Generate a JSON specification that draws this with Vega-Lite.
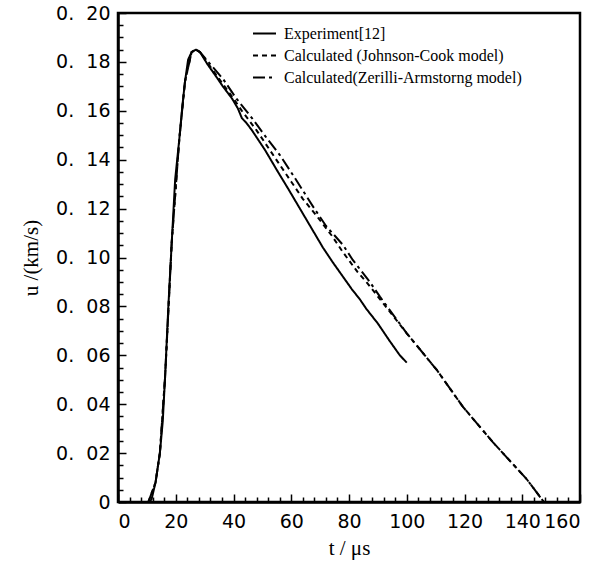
{
  "$schema": "https://vega.github.io/schema/vega-lite/v6.json",
  "autosize": "none",
  "width": 462,
  "height": 489,
  "padding": {"left": 118, "top": 13, "right": 23, "bottom": 62},
  "background": "white",
  "config": {
    "view": {"stroke": "black", "strokeWidth": 2.5},
    "axis": {"domainColor": "black", "domainWidth": 2.5, "tickColor": "black", "tickWidth": 1.5, "grid": false,
      "labelFont": "DejaVu Sans", "labelFontSize": 19, "labelColor": "black",
      "titleFont": "Liberation Serif", "titleFontSize": 21, "titleFontWeight": "normal", "titleColor": "black"}
  },
  "data": {"values": [
    {"series": "Experiment", "t": 10.5, "u": 0},
    {"series": "Experiment", "t": 11.6, "u": 0.001},
    {"series": "Experiment", "t": 13.0, "u": 0.008},
    {"series": "Experiment", "t": 14.5, "u": 0.020},
    {"series": "Experiment", "t": 15.5, "u": 0.033},
    {"series": "Experiment", "t": 16.3, "u": 0.051},
    {"series": "Experiment", "t": 17.4, "u": 0.079},
    {"series": "Experiment", "t": 18.6, "u": 0.106},
    {"series": "Experiment", "t": 19.8, "u": 0.132},
    {"series": "Experiment", "t": 21.2, "u": 0.148},
    {"series": "Experiment", "t": 22.3, "u": 0.162},
    {"series": "Experiment", "t": 23.2, "u": 0.172},
    {"series": "Experiment", "t": 24.3, "u": 0.181},
    {"series": "Experiment", "t": 25.5, "u": 0.184},
    {"series": "Experiment", "t": 27.0, "u": 0.185},
    {"series": "Experiment", "t": 28.4, "u": 0.184},
    {"series": "Experiment", "t": 31.0, "u": 0.179},
    {"series": "Experiment", "t": 34.0, "u": 0.174},
    {"series": "Experiment", "t": 36.3, "u": 0.170},
    {"series": "Experiment", "t": 39.5, "u": 0.165},
    {"series": "Experiment", "t": 41.5, "u": 0.161},
    {"series": "Experiment", "t": 42.9, "u": 0.157},
    {"series": "Experiment", "t": 44.5, "u": 0.155},
    {"series": "Experiment", "t": 46.4, "u": 0.152},
    {"series": "Experiment", "t": 50.9, "u": 0.144},
    {"series": "Experiment", "t": 55.4, "u": 0.135},
    {"series": "Experiment", "t": 59.0, "u": 0.128},
    {"series": "Experiment", "t": 63.0, "u": 0.120},
    {"series": "Experiment", "t": 67.0, "u": 0.112},
    {"series": "Experiment", "t": 71.0, "u": 0.104},
    {"series": "Experiment", "t": 74.4, "u": 0.098},
    {"series": "Experiment", "t": 78.0, "u": 0.092},
    {"series": "Experiment", "t": 81.0, "u": 0.087},
    {"series": "Experiment", "t": 83.7, "u": 0.083},
    {"series": "Experiment", "t": 86.0, "u": 0.079},
    {"series": "Experiment", "t": 90.0, "u": 0.073},
    {"series": "Experiment", "t": 94.0, "u": 0.066},
    {"series": "Experiment", "t": 97.6, "u": 0.060},
    {"series": "Experiment", "t": 100.0, "u": 0.057},

    {"series": "Johnson-Cook", "t": 10.5, "u": 0},
    {"series": "Johnson-Cook", "t": 13.0, "u": 0.008},
    {"series": "Johnson-Cook", "t": 14.5, "u": 0.020},
    {"series": "Johnson-Cook", "t": 16.3, "u": 0.051},
    {"series": "Johnson-Cook", "t": 18.6, "u": 0.106},
    {"series": "Johnson-Cook", "t": 21.2, "u": 0.148},
    {"series": "Johnson-Cook", "t": 23.2, "u": 0.172},
    {"series": "Johnson-Cook", "t": 25.5, "u": 0.184},
    {"series": "Johnson-Cook", "t": 27.0, "u": 0.185},
    {"series": "Johnson-Cook", "t": 28.4, "u": 0.184},
    {"series": "Johnson-Cook", "t": 32.0, "u": 0.178},
    {"series": "Johnson-Cook", "t": 36.3, "u": 0.171},
    {"series": "Johnson-Cook", "t": 40.0, "u": 0.165},
    {"series": "Johnson-Cook", "t": 42.9, "u": 0.160},
    {"series": "Johnson-Cook", "t": 48.0, "u": 0.152},
    {"series": "Johnson-Cook", "t": 55.4, "u": 0.139},
    {"series": "Johnson-Cook", "t": 60.0, "u": 0.131},
    {"series": "Johnson-Cook", "t": 64.0, "u": 0.124},
    {"series": "Johnson-Cook", "t": 68.8, "u": 0.117},
    {"series": "Johnson-Cook", "t": 74.0, "u": 0.109},
    {"series": "Johnson-Cook", "t": 78.0, "u": 0.102},
    {"series": "Johnson-Cook", "t": 83.0, "u": 0.094},
    {"series": "Johnson-Cook", "t": 86.0, "u": 0.090},
    {"series": "Johnson-Cook", "t": 90.7, "u": 0.083},
    {"series": "Johnson-Cook", "t": 100.0, "u": 0.069},
    {"series": "Johnson-Cook", "t": 110.4, "u": 0.054},
    {"series": "Johnson-Cook", "t": 119.4, "u": 0.039},
    {"series": "Johnson-Cook", "t": 129.8, "u": 0.0245},
    {"series": "Johnson-Cook", "t": 141.5, "u": 0.0094},
    {"series": "Johnson-Cook", "t": 147.5, "u": 0},

    {"series": "Zerilli-Armstrong", "t": 10.5, "u": 0},
    {"series": "Zerilli-Armstrong", "t": 13.0, "u": 0.008},
    {"series": "Zerilli-Armstrong", "t": 14.5, "u": 0.020},
    {"series": "Zerilli-Armstrong", "t": 16.3, "u": 0.051},
    {"series": "Zerilli-Armstrong", "t": 18.6, "u": 0.106},
    {"series": "Zerilli-Armstrong", "t": 21.2, "u": 0.148},
    {"series": "Zerilli-Armstrong", "t": 23.2, "u": 0.172},
    {"series": "Zerilli-Armstrong", "t": 25.5, "u": 0.184},
    {"series": "Zerilli-Armstrong", "t": 27.0, "u": 0.185},
    {"series": "Zerilli-Armstrong", "t": 28.4, "u": 0.184},
    {"series": "Zerilli-Armstrong", "t": 32.0, "u": 0.179},
    {"series": "Zerilli-Armstrong", "t": 36.4, "u": 0.173},
    {"series": "Zerilli-Armstrong", "t": 41.0, "u": 0.165},
    {"series": "Zerilli-Armstrong", "t": 46.4, "u": 0.157},
    {"series": "Zerilli-Armstrong", "t": 51.4, "u": 0.149},
    {"series": "Zerilli-Armstrong", "t": 56.0, "u": 0.142},
    {"series": "Zerilli-Armstrong", "t": 61.0, "u": 0.133},
    {"series": "Zerilli-Armstrong", "t": 68.0, "u": 0.120},
    {"series": "Zerilli-Armstrong", "t": 72.0, "u": 0.113},
    {"series": "Zerilli-Armstrong", "t": 78.0, "u": 0.105},
    {"series": "Zerilli-Armstrong", "t": 81.3, "u": 0.099},
    {"series": "Zerilli-Armstrong", "t": 87.2, "u": 0.090},
    {"series": "Zerilli-Armstrong", "t": 90.7, "u": 0.084},
    {"series": "Zerilli-Armstrong", "t": 100.0, "u": 0.069},
    {"series": "Zerilli-Armstrong", "t": 110.4, "u": 0.054},
    {"series": "Zerilli-Armstrong", "t": 119.4, "u": 0.039},
    {"series": "Zerilli-Armstrong", "t": 129.8, "u": 0.0245},
    {"series": "Zerilli-Armstrong", "t": 141.5, "u": 0.0094},
    {"series": "Zerilli-Armstrong", "t": 147.5, "u": 0}
  ]},
  "mark": {"type": "line", "color": "black", "strokeWidth": 2, "clip": true},
  "encoding": {
    "x": {"field": "t", "type": "quantitative",
      "scale": {"domain": [0, 160], "nice": false, "zero": false},
      "axis": {"title": "t / μs", "titlePadding": 6,
        "values": [0,4,8,12,16,20,24,28,32,36,40,44,48,52,56,60,64,68,72,76,80,84,88,92,96,100,104,108,112,116,120,124,128,132,136,140,144,148,152,156,160],
        "labelExpr": "datum.value % 20 == 0 ? format(datum.value, 'd') : ''",
        "tickSize": {"condition": {"test": "datum.value % 20 == 0", "value": -8}, "value": -5},
        "labelPadding": 18}},
    "y": {"field": "u", "type": "quantitative",
      "scale": {"domain": [0, 0.2], "nice": false, "zero": true},
      "axis": {"title": "u /(km/s)", "titlePadding": 14,
        "values": [0,0.005,0.01,0.015,0.02,0.025,0.03,0.035,0.04,0.045,0.05,0.055,0.06,0.065,0.07,0.075,0.08,0.085,0.09,0.095,0.1,0.105,0.11,0.115,0.12,0.125,0.13,0.135,0.14,0.145,0.15,0.155,0.16,0.165,0.17,0.175,0.18,0.185,0.19,0.195,0.2],
        "labelExpr": "datum.value == 0 ? '0' : (round(datum.value * 1000) % 20 == 0 ? '0.\u00a0\u00a0' + substring(format(datum.value, '.2f'), 2) : '')",
        "tickSize": {"condition": {"test": "round(datum.value * 1000) % 20 == 0", "value": -8}, "value": -5},
        "labelPadding": 16}},
    "strokeDash": {"field": "series", "type": "nominal",
      "scale": {"domain": ["Experiment", "Johnson-Cook", "Zerilli-Armstrong"], "range": [[1, 0], [5, 4], [12, 4, 3, 4]]},
      "legend": {"title": null, "orient": "none", "legendX": 134, "legendY": 8,
        "symbolType": "stroke", "symbolSize": 529, "symbolStrokeWidth": 2, "symbolStrokeColor": "black",
        "labelFont": "Liberation Serif", "labelFontSize": 16, "labelColor": "black", "rowPadding": 1, "labelOffset": 7, "labelLimit": 0,
        "labelExpr": "datum.value == 'Experiment' ? 'Experiment[12]' : (datum.value == 'Johnson-Cook' ? 'Calculated (Johnson-Cook model)' : 'Calculated(Zerilli-Armstorng model)')"}}
  }
}
